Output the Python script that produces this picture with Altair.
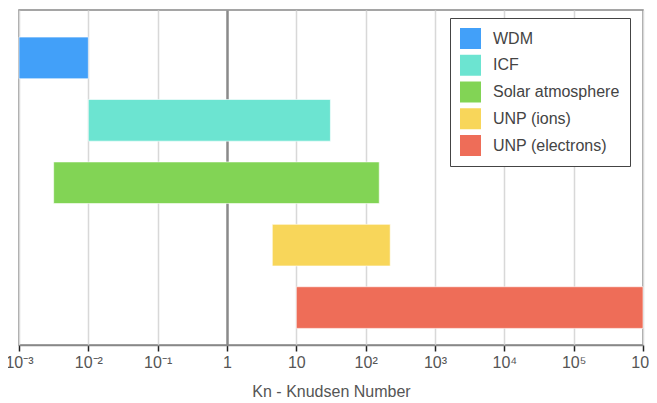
import altair as alt
import pandas as pd

regimes = ["WDM", "ICF", "Solar atmosphere", "UNP (ions)", "UNP (electrons)"]
kn_low = [0.001, 0.01, 0.00316, 4.5, 10]
kn_high = [0.01, 31, 157, 226, 1000000]
colors = ["#42A0F9", "#6CE4D1", "#82D455", "#F8D65A", "#EE6D58"]

tick_values = [0.001, 0.01, 0.1, 1, 10, 100, 1000, 10000, 100000, 1000000]
tick_labels = ["10⁻³", "10⁻²", "10⁻¹", "1", "10", "10²", "10³", "10⁴", "10⁵", "10⁶"]

df = pd.DataFrame({"regime": regimes, "low": kn_low, "high": kn_high})

label_arr = "[" + ",".join("'" + s + "'" for s in tick_labels) + "]"
label_expr = label_arr + "[round(log(datum.value)/LN10)+3]"

font = "Liberation Sans"

chart = alt.Chart(df).mark_bar(
    stroke="white", strokeWidth=1, strokeOpacity=0.6
).encode(
    x=alt.X(
        "low:Q",
        scale=alt.Scale(type="log", domain=[0.001, 1000000], nice=False),
        axis=alt.Axis(
            title="Kn - Knudsen Number",
            values=tick_values,
            labelExpr=label_expr,
            labelFont=font,
            labelFontSize=16,
            labelColor="#555555",
            labelPadding=3,
            labelFlush=False,
            labelOverlap=False,
            titleFont=font,
            titleFontSize=16,
            titleFontWeight="normal",
            titleColor="#555555",
            titlePadding=13,
            domainColor="#888888",
            domainWidth=1.5,
            tickColor="#222222",
            tickSize=6,
            tickWidth=1.5,
            grid=True,
            gridColor={"condition": {"test": "datum.value === 1", "value": "#8a8a8a"}, "value": "#d8d8d8"},
            gridWidth={"condition": {"test": "datum.value === 1", "value": 2.5}, "value": 1.5},
        ),
    ),
    x2="high:Q",
    y=alt.Y(
        "regime:N",
        sort=regimes,
        scale=alt.Scale(paddingInner=0.333, paddingOuter=0.35, align=0.62),
        axis=None,
    ),
    color=alt.Color(
        "regime:N",
        sort=regimes,
        scale=alt.Scale(domain=regimes, range=colors),
        legend=alt.Legend(
            title=None,
            orient="none",
            legendX=431,
            legendY=8,
            symbolType="square",
            symbolSize=441,
            symbolStrokeWidth=0,
            symbolOpacity=1,
            labelFont=font,
            labelFontSize=16,
            labelColor="#444444",
            labelOffset=12,
            rowPadding=5.75,
            padding=10,
            strokeColor="#444444",
            fillColor="white",
            labelLimit=220,
        ),
    ),
).properties(
    width=624,
    height=335,
    padding={"left": 11, "top": 2, "right": 6, "bottom": 56},
    autosize=alt.AutoSizeParams(type="none"),
).configure_view(
    stroke="#888888", strokeWidth=1.5
)

chart.save("out.html", embed_options={"renderer": "svg", "actions": False})
